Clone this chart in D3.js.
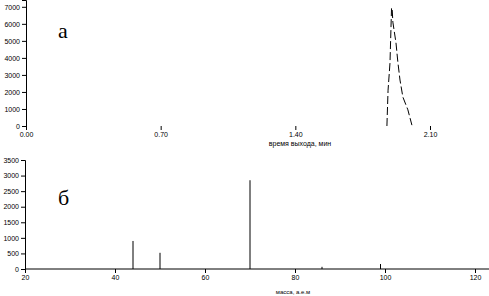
<!DOCTYPE html>
<html>
<head>
<meta charset="utf-8">
<script src="https://cdn.jsdelivr.net/npm/d3@7"></script>
<style>
  body { margin: 0; background: #fff; }
  svg text { font-family: "Liberation Sans", Arial, sans-serif; fill: #000; }
</style>
</head>
<body>
<svg id="chart"></svg>
<script>
// chromatogram (top)
var peakTime = [1.876, 1.882, 1.892, 1.900, 1.903, 1.907, 1.923, 1.933, 1.944, 1.959, 1.985, 2.006];
var peakIntensity = [0, 2100, 3700, 6900, 6950, 6100, 4900, 3750, 2700, 1700, 950, 50];
var timeTicks = [0, 0.7, 1.4, 2.1];
var timeTickLabels = ["0.00", "0.70", "1.40", "2.10"];
var intensityTicks = [0, 1000, 2000, 3000, 4000, 5000, 6000, 7000];

// mass spectrum (bottom)
var massValues = [44, 50, 70, 86, 99];
var massAbundance = [900, 520, 2850, 70, 160];
var massTicks = [20, 40, 60, 80, 100, 120];
var abundanceTicks = [0, 500, 1000, 1500, 2000, 2500, 3000, 3500];

var width = 489, height = 296;

var svg = d3.select("#chart")
  .attr("width", width)
  .attr("height", height)

// ---- top panel ----
var xTime = d3.scaleLinear().domain([0, 2.1]).range([26, 430]);
var yInt = d3.scaleLinear().domain([0, 7400]).range([126, 0]);

var topY = svg.append("g")
  .attr("transform", "translate(26,0)")
  .call(d3.axisLeft(yInt).tickValues(intensityTicks).tickSize(4).tickPadding(2).tickFormat(d3.format("d")));

var topX = svg.append("g")
  .attr("transform", "translate(0,126)")
  .call(d3.axisBottom(xTime).tickValues(timeTicks).tickSize(4).tickPadding(2)
    .tickFormat(function(d, i){ return timeTickLabels[i]; }));
topX.select(".domain").remove();

svg.append("text")
  .attr("x", 300)
  .attr("y", 146)
  .attr("text-anchor", "middle")
  .style("font-size", "7px")
  .text("время выхода, мин");

var drawLine = d3.line()
  .x(function(d, i){ return xTime(peakTime[i]); })
  .y(function(d){ return yInt(d); });

svg.append("path")
  .datum(peakIntensity)
  .attr("d", drawLine)
  .attr("fill", "none")
  .attr("stroke", "#000")
  .attr("stroke-width", 1)
  .attr("stroke-dasharray", "8,3");

svg.append("text")
  .attr("x", 58)
  .attr("y", 38)
  .style("font-family", "'Liberation Serif', serif")
  .style("font-size", "22px")
  .text("а");

// ---- bottom panel ----
var xMass = d3.scaleLinear().domain([20, 120]).range([25, 475]);
var yAb = d3.scaleLinear().domain([0, 3500]).range([269, 160]);

svg.append("g")
  .attr("transform", "translate(25,0)")
  .call(d3.axisLeft(yAb).tickValues(abundanceTicks).tickSize(4).tickPadding(2).tickFormat(d3.format("d")));

var botX = svg.append("g")
  .attr("transform", "translate(0,269)")
  .call(d3.axisBottom(xMass).tickValues(massTicks).tickSize(4).tickPadding(2).tickSizeOuter(0));
botX.select(".domain").attr("d", "M25,0H489");

svg.append("text")
  .attr("x", 293)
  .attr("y", 294)
  .attr("text-anchor", "middle")
  .style("font-size", "6px")
  .text("масса, а.е.м");

svg.selectAll(".peak")
  .data(massValues)
  .enter()
  .append("line")
  .attr("class", "peak")
  .attr("x1", function(d){ return xMass(d); })
  .attr("x2", function(d){ return xMass(d); })
  .attr("y1", yAb(0))
  .attr("y2", function(d, i){ return yAb(massAbundance[i]); })
  .attr("stroke", "#000")
  .attr("stroke-width", 1);

svg.append("text")
  .attr("x", 58)
  .attr("y", 205)
  .style("font-family", "'Liberation Serif', serif")
  .style("font-size", "22px")
  .text("б");

svg.selectAll(".tick text").style("font-size", "7px").style("font-family", "'Liberation Sans', sans-serif");
svg.selectAll(".domain, .tick line").attr("stroke-width", 1);
</script>
</body>
</html>
